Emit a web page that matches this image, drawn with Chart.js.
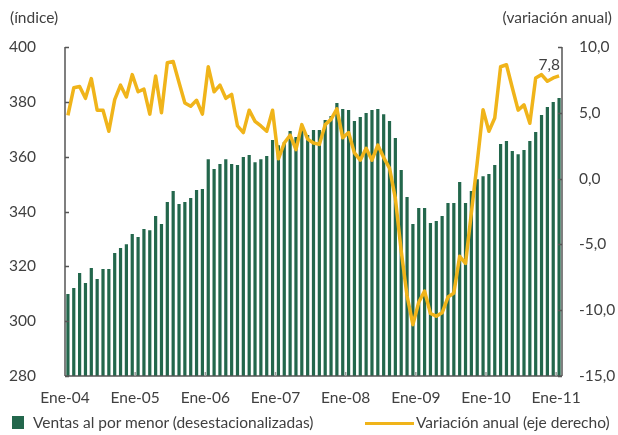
<!DOCTYPE html>
<html lang="es">
<head>
<meta charset="UTF-8">
<title>Ventas al por menor</title>
<style>
    body { margin: 0; background: #fff; }
    .marco { position: relative; width: 618px; height: 435px; font-family: Lato, "Open Sans", sans-serif; color: #404040; }
    .marco canvas { position: absolute; left: 0; top: 0; }
    .texto { position: absolute; font-size: 15.5px; line-height: 18px; white-space: nowrap; }
    .cuadro { position: absolute; left: 12px; top: 416px; width: 12px; height: 13px; background: #23674c; }
    .linea { position: absolute; left: 365px; top: 422px; width: 49px; height: 3px; background: #f0b41a; }
</style>
</head>
<body>
<div class="marco">
    <canvas id="grafico" width="618" height="435"></canvas>
    <div class="texto" style="left:10px; top:8px;">(índice)</div>
    <div class="texto" style="right:6px; top:8px;">(variación anual)</div>
    <div class="cuadro"></div>
    <div class="texto" style="left:33px; top:413px;">Ventas al por menor (desestacionalizadas)</div>
    <div class="linea"></div>
    <div class="texto" style="left:416px; top:413px;">Variación anual (eje derecho)</div>
</div>

<script src="https://cdn.jsdelivr.net/npm/chart.js"></script>
<script>
    // meses ene-2004 .. ene-2011
    const meses = ['Ene', 'Feb', 'Mar', 'Abr', 'May', 'Jun', 'Jul', 'Ago', 'Sep', 'Oct', 'Nov', 'Dic'];
    const anios = ['04', '05', '06', '07', '08', '09', '10', '11'];
    const categorias = [];
    anios.forEach(a => meses.forEach(m => categorias.push(m + '-' + a)));
    categorias.length = 85;

    // índice (eje izquierdo)
    const ventas = [
        309.9, 312.1, 317.6, 313.9, 319.4, 315.4, 319.0, 319.0, 324.9, 326.7, 328.1, 331.8,
        330.7, 333.6, 333.2, 338.4, 335.4, 343.5, 347.5, 342.7, 343.5, 344.9, 347.8, 348.2,
        359.1, 355.5, 357.3, 359.1, 357.3, 357.0, 359.9, 360.6, 358.0, 359.1, 360.2, 366.1,
        364.2, 365.3, 369.4, 367.2, 370.5, 367.9, 369.7, 369.7, 373.4, 374.8, 379.6, 377.4,
        377.0, 373.0, 374.5, 375.9, 377.0, 377.4, 375.5, 373.0, 366.8, 355.1, 345.3, 335.4,
        341.3, 341.3, 335.8, 336.5, 338.4, 343.1, 343.1, 350.8, 343.1, 347.5, 351.8, 352.9,
        353.7, 357.0, 364.6, 365.7, 362.1, 360.9, 362.4, 365.7, 369.0, 375.2, 378.1, 379.9,
        381.4
    ];

    // variación anual % (eje derecho)
    const variacion = [
        4.8, 6.9, 7.0, 6.1, 7.6, 5.2, 5.2, 3.6, 6.0, 7.1, 6.2, 7.9,
        6.6, 6.8, 4.9, 7.8, 5.0, 8.8, 8.9, 7.3, 5.75, 5.5, 5.95, 4.9,
        8.5, 6.6, 7.1, 6.1, 6.4, 4.0, 3.5, 5.2, 4.35, 4.0, 3.6, 5.2,
        1.5, 2.7, 3.3, 2.2, 4.1, 3.0, 2.7, 2.6, 4.1, 4.5, 5.3, 3.1,
        3.5, 1.95, 1.4, 2.3, 1.4, 2.55, 1.6, 0.8, -1.5, -5.5, -8.9, -11.1,
        -9.4, -8.55, -10.25, -10.45, -10.2, -9.0, -8.7, -5.9, -6.45, -2.6, 1.2, 5.24,
        3.6, 4.6, 8.5, 8.65, 6.9, 5.2, 5.6, 4.2, 7.65, 7.9, 7.4, 7.65,
        7.8
    ];

    const ticksIzq = [280, 300, 320, 340, 360, 380, 400];
    const ticksDer = [-15, -10, -5, 0, 5, 10];

    const fuente = { family: 'Lato, "Open Sans", sans-serif', size: 15.5 };
    const gris = '#404040';

    // ejes con marcas hacia adentro y etiqueta del último dato
    const ejes = {
        id: 'ejes',
        afterDatasetsDraw(chart) {
            const ctx = chart.ctx;
            const a = chart.chartArea;
            const x = chart.scales.x;
            const yi = chart.scales.y;
            const yd = chart.scales.y2;
            ctx.save();
            ctx.lineWidth = 1.5;
            ctx.strokeStyle = '#555';
            ctx.beginPath();
            ctx.moveTo(a.left, a.top); ctx.lineTo(a.left, a.bottom);
            ctx.moveTo(a.right, a.top); ctx.lineTo(a.right, a.bottom);
            ctx.moveTo(a.left, a.bottom); ctx.lineTo(a.right, a.bottom);
            ticksIzq.forEach(v => {
                const p = Math.round(yi.getPixelForValue(v)) + 0.5;
                ctx.moveTo(a.left, p); ctx.lineTo(a.left + 4, p);
            });
            ticksDer.forEach(v => {
                const p = Math.round(yd.getPixelForValue(v)) + 0.5;
                ctx.moveTo(a.right, p); ctx.lineTo(a.right - 4, p);
            });
            ctx.stroke();
            ctx.strokeStyle = '#999';
            ctx.beginPath();
            categorias.forEach((c, i) => {
                if (i > 0 && c.startsWith('Ene')) {
                    const p = (x.getPixelForValue(i - 1) + x.getPixelForValue(i)) / 2;
                    ctx.moveTo(p, a.bottom); ctx.lineTo(p, a.bottom - 4);
                }
            });
            ctx.stroke();

            const meta = chart.getDatasetMeta(1);
            const ult = meta.data[meta.data.length - 1];
            ctx.fillStyle = gris;
            ctx.font = '15.5px ' + fuente.family;
            ctx.textAlign = 'right';
            ctx.textBaseline = 'bottom';
            ctx.fillText(variacion[variacion.length - 1].toFixed(1).replace('.', ','), ult.x + 1, ult.y - 3);
            ctx.restore();
        }
    };

    new Chart(document.getElementById('grafico'), {
        type: 'bar',
        data: {
            labels: categorias,
            datasets: [{
                label: 'Ventas al por menor (desestacionalizadas)',
                data: ventas,
                backgroundColor: '#23674c',
                barPercentage: 0.55,
                categoryPercentage: 1,
                yAxisID: 'y',
                order: 2
            }, {
                type: 'line',
                label: 'Variación anual (eje derecho)',
                data: variacion,
                borderColor: '#f0b41a',
                borderWidth: 3.5,
                borderJoinStyle: 'round',
                pointRadius: 0,
                tension: 0,
                yAxisID: 'y2',
                order: 1
            }]
        },
        options: {
            responsive: false,
            animation: false,
            layout: { padding: { top: 47, bottom: 14, left: 0, right: 0 } },
            plugins: { legend: { display: false }, tooltip: { enabled: false } },
            scales: {
                x: {
                    offset: true,
                    clip: false,
                    grid: { display: false, offset: true, drawTicks: false },
                    border: { display: false },
                    afterFit(s) { s.height = 45; },
                    ticks: {
                        autoSkip: false,
                        maxRotation: 0,
                        padding: 13,
                        labelOffset: -2.9,
                        color: gris,
                        font: fuente,
                        callback(v) {
                            const t = categorias[v];
                            return t.startsWith('Ene') ? t : '';
                        }
                    }
                },
                y: {
                    position: 'left',
                    min: 280,
                    max: 400,
                    grid: { display: false, drawTicks: false },
                    border: { display: false },
                    afterFit(s) { s.width = 65; },
                    afterBuildTicks(s) { s.ticks = ticksIzq.map(v => ({ value: v })); },
                    ticks: { padding: 29, color: gris, font: fuente }
                },
                y2: {
                    position: 'right',
                    min: -15,
                    max: 10,
                    grid: { display: false, drawTicks: false },
                    border: { display: false },
                    afterFit(s) { s.width = 56; },
                    afterBuildTicks(s) { s.ticks = ticksDer.map(v => ({ value: v })); },
                    ticks: {
                        padding: 17,
                        color: gris,
                        font: fuente,
                        callback: v => v.toFixed(1).replace('.', ',')
                    }
                }
            }
        },
        plugins: [ejes]
    });
</script>
</body>
</html>
